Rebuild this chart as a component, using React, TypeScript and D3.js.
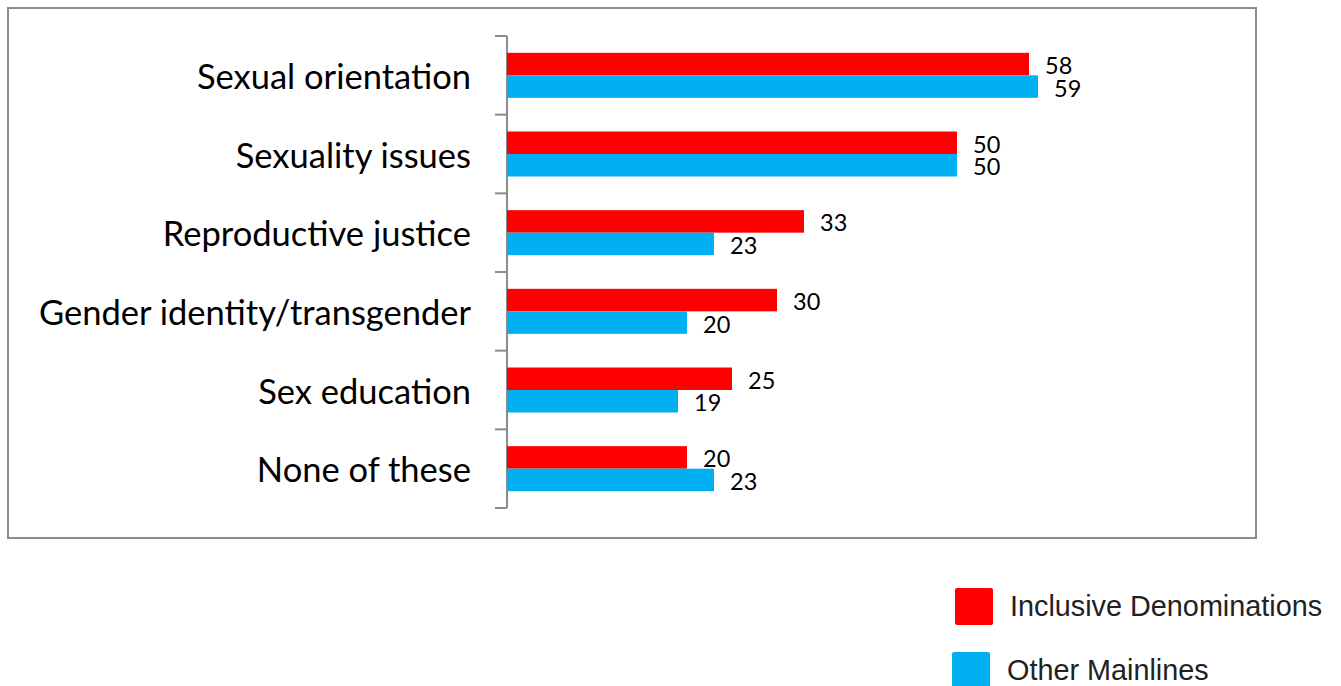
import React from 'react';
import * as d3 from 'd3';

const categories = [
  'Sexual orientation',
  'Sexuality issues',
  'Reproductive justice',
  'Gender identity/transgender',
  'Sex education',
  'None of these',
];
const inclusiveValues = [58, 50, 33, 30, 25, 20];
const mainlineValues = [59, 50, 23, 20, 19, 23];
const seriesNames = ['Inclusive Denominations', 'Other Mainlines'];
const seriesColors = ['#FF0000', '#00B0F0'];

const W = 1341;
const H = 686;
const axisX = 507;
const top = 36;
const bottom = 508;

export default function App() {
  const x = d3.scaleLinear().domain([0, 50]).range([axisX, axisX + 450]);
  const y = d3.scaleBand<string>().domain(categories).range([top, bottom]).paddingInner(0).paddingOuter(0);
  const barH = 22.5;
  const tickYs = categories.map((c) => y(c) as number).concat([bottom]);

  return (
    <svg width={W} height={H} style={{ position: 'absolute', left: 0, top: 0 }}>
      <rect x={0} y={0} width={W} height={H} fill="#fff" />
      {/* frame */}
      <rect x={8} y={8} width={1248} height={530} fill="none" stroke="#8c8c8c" strokeWidth={2} />

      {/* axis */}
      <line x1={axisX} x2={axisX} y1={top} y2={bottom} stroke="#8c8c8c" strokeWidth={2} />
      {tickYs.map((ty, i) => (
        <line key={i} x1={axisX - 12} x2={axisX} y1={ty} y2={ty} stroke="#8c8c8c" strokeWidth={2} />
      ))}

      {categories.map((c, i) => {
        const cy = (y(c) as number) + y.bandwidth() / 2;
        return (
          <g key={c}>
            <text
              x={471}
              y={cy}
              textAnchor="end"
              dominantBaseline="central"
              fontFamily="Lato, sans-serif"
              fontSize={34.5}
              fill="#000"
            >
              {c}
            </text>
            {[inclusiveValues[i], mainlineValues[i]].map((v, s) => {
              const by = cy - barH + s * barH;
              return (
                <g key={s}>
                  <rect x={axisX} y={by} width={x(v) - axisX} height={barH} fill={seriesColors[s]} />
                  <text
                    x={x(v) + 16}
                    y={by + barH / 2 + 1}
                    dominantBaseline="central"
                    fontFamily="Lato, sans-serif"
                    fontSize={23.5}
                    fill="#000"
                  >
                    {v}
                  </text>
                </g>
              );
            })}
          </g>
        );
      })}

      {/* legend */}
      {seriesNames.map((n, i) => (
        <g key={n} transform={`translate(${955 - i * 3},${588 + i * 64})`}>
          <rect x={0} y={0} width={38} height={37} rx={2} fill={seriesColors[i]} />
          <text
            x={55}
            y={18}
            dominantBaseline="central"
            fontFamily="'Liberation Sans', Arial, sans-serif"
            fontSize={28.8}
            fill="#222"
          >
            {n}
          </text>
        </g>
      ))}
    </svg>
  );
}
